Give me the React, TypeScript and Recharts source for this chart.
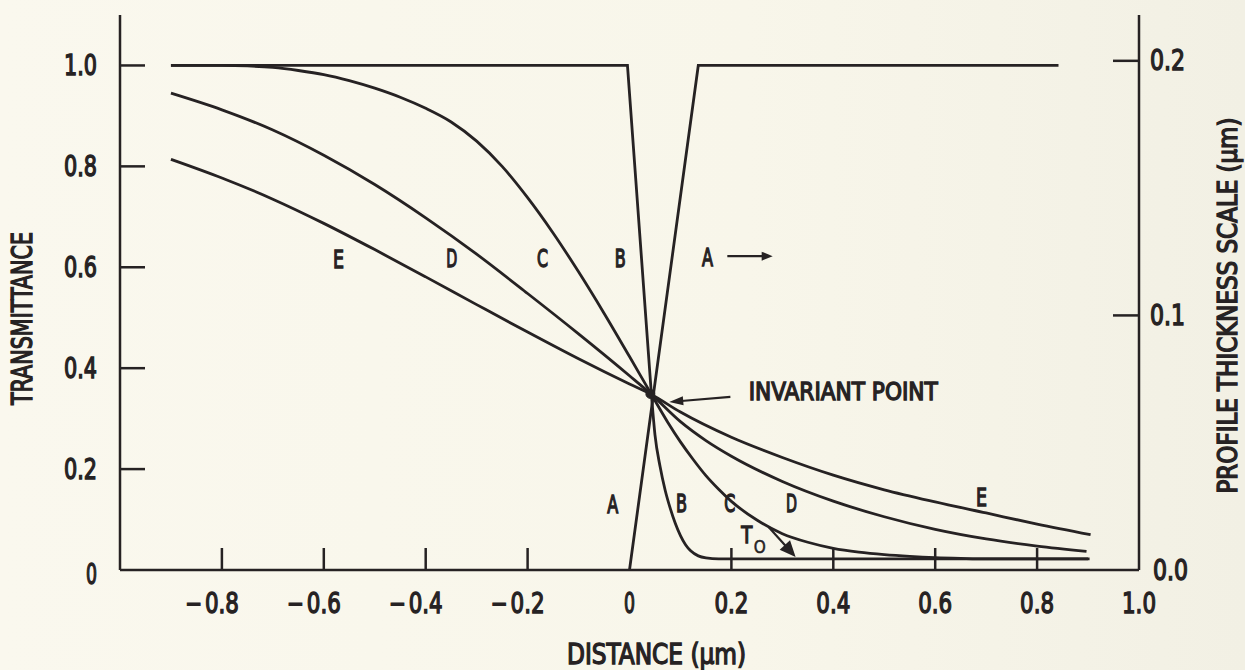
import React from 'react';
import {
  LineChart,
  Line,
  XAxis,
  YAxis,
  ReferenceDot,
  ReferenceLine,
  Label,
} from 'recharts';

const INK = '#262223';
const FONT = "'Liberation Sans Narrow', 'DejaVu Sans Condensed', 'Arial Narrow', sans-serif";

// ---- axis ticks ----
const xTicks = [-0.8, -0.6, -0.4, -0.2, 0, 0.2, 0.4, 0.6, 0.8, 1.0];
const yTicks = [0, 0.2, 0.4, 0.6, 0.8, 1.0];
const thicknessTicks = [0, 0.1, 0.2];

// ---- transmittance profiles (distance in µm, transmittance 0..1) ----
const profileA = [
  { x: 0, y: 0 },
  { x: 0.135, y: 1.0 },
  { x: 0.842, y: 1.0 },
];

const profileBEdge = [
  { x: -0.9, y: 1.0 },
  { x: -0.004, y: 1.0 },
  { x: 0.043, y: 0.348 },
];

const profileBTail = [
  { x: 0.043, y: 0.348 },
  { x: 0.05, y: 0.268 },
  { x: 0.06, y: 0.205 },
  { x: 0.07, y: 0.158 },
  { x: 0.08, y: 0.122 },
  { x: 0.09, y: 0.092 },
  { x: 0.1, y: 0.068 },
  { x: 0.11, y: 0.05 },
  { x: 0.12, y: 0.038 },
  { x: 0.135, y: 0.028 },
  { x: 0.15, y: 0.024 },
  { x: 0.175, y: 0.022 },
  { x: 0.2, y: 0.022 },
  { x: 0.903, y: 0.022 },
];

const profileC = [
  { x: -0.9, y: 1.0 },
  { x: -0.8, y: 1.0 },
  { x: -0.75, y: 0.999 },
  { x: -0.7, y: 0.996 },
  { x: -0.65, y: 0.99 },
  { x: -0.6, y: 0.982 },
  { x: -0.55, y: 0.97 },
  { x: -0.5, y: 0.955 },
  { x: -0.45, y: 0.937 },
  { x: -0.4, y: 0.915 },
  { x: -0.35, y: 0.888 },
  { x: -0.3, y: 0.85 },
  { x: -0.25, y: 0.8 },
  { x: -0.2, y: 0.738 },
  { x: -0.15, y: 0.668 },
  { x: -0.1, y: 0.591 },
  { x: -0.05, y: 0.509 },
  { x: 0, y: 0.423 },
  { x: 0.043, y: 0.348 },
  { x: 0.075, y: 0.293 },
  { x: 0.1, y: 0.254 },
  { x: 0.125, y: 0.219 },
  { x: 0.15, y: 0.187 },
  { x: 0.175, y: 0.16 },
  { x: 0.2, y: 0.136 },
  { x: 0.25, y: 0.099 },
  { x: 0.3, y: 0.072 },
  { x: 0.35, y: 0.055 },
  { x: 0.4, y: 0.043 },
  { x: 0.45, y: 0.0355 },
  { x: 0.5, y: 0.0305 },
  { x: 0.55, y: 0.027 },
  { x: 0.6, y: 0.0245 },
  { x: 0.65, y: 0.023 },
  { x: 0.7, y: 0.022 },
  { x: 0.9, y: 0.022 },
];

const profileD = [
  { x: -0.9, y: 0.945 },
  { x: -0.8, y: 0.912 },
  { x: -0.7, y: 0.872 },
  { x: -0.6, y: 0.822 },
  { x: -0.5, y: 0.764 },
  { x: -0.4, y: 0.698 },
  { x: -0.3, y: 0.626 },
  { x: -0.2, y: 0.548 },
  { x: -0.1, y: 0.468 },
  { x: 0, y: 0.385 },
  { x: 0.043, y: 0.348 },
  { x: 0.1, y: 0.294 },
  { x: 0.15, y: 0.2565 },
  { x: 0.2, y: 0.2255 },
  { x: 0.3, y: 0.1755 },
  { x: 0.4, y: 0.1365 },
  { x: 0.5, y: 0.1055 },
  { x: 0.6, y: 0.0805 },
  { x: 0.7, y: 0.0615 },
  { x: 0.8, y: 0.0475 },
  { x: 0.897, y: 0.037 },
];

const profileE = [
  { x: -0.9, y: 0.814 },
  { x: -0.8, y: 0.777 },
  { x: -0.7, y: 0.735 },
  { x: -0.6, y: 0.687 },
  { x: -0.5, y: 0.635 },
  { x: -0.4, y: 0.581 },
  { x: -0.3, y: 0.526 },
  { x: -0.2, y: 0.4715 },
  { x: -0.1, y: 0.4185 },
  { x: 0, y: 0.3685 },
  { x: 0.043, y: 0.348 },
  { x: 0.1, y: 0.313 },
  { x: 0.2, y: 0.263 },
  { x: 0.3, y: 0.223 },
  { x: 0.4, y: 0.188 },
  { x: 0.5, y: 0.159 },
  { x: 0.6, y: 0.135 },
  { x: 0.7, y: 0.113 },
  { x: 0.8, y: 0.091 },
  { x: 0.905, y: 0.07 },
];

// ---- curve letters and notes, anchored in data units ----
const curveTags = [
  { t: 'E', x: -0.571, y: 0.616 },
  { t: 'D', x: -0.349, y: 0.618 },
  { t: 'C', x: -0.171, y: 0.618 },
  { t: 'B', x: -0.018, y: 0.618 },
  { t: 'A', x: 0.153, y: 0.62 },
  { t: 'A', x: -0.033, y: 0.129 },
  { t: 'B', x: 0.102, y: 0.131 },
  { t: 'C', x: 0.197, y: 0.131 },
  { t: 'D', x: 0.318, y: 0.131 },
  { t: 'E', x: 0.691, y: 0.143 },
];

const invariantPoint = { x: 0.041, y: 0.349 };
const invariantNote = { text: 'INVARIANT POINT', x: 0.234, y: 0.354 };
const t0Note = { x: 0.23, y: 0.069 };

const arrows = [
  { from: { x: 0.192, y: 0.622 }, to: { x: 0.281, y: 0.622 }, head: 11, half: 4.5 },
  { from: { x: 0.198, y: 0.343 }, to: { x: 0.078, y: 0.333 }, head: 14, half: 4.5 },
  { from: { x: 0.273, y: 0.085 }, to: { x: 0.326, y: 0.026 }, head: 16, half: 7 },
];

const fmtX = (v: number) => (v === 0 ? '0' : Math.abs(v).toFixed(1));
const fmtY = (v: number) => (v === 0 ? '0' : v.toFixed(1));

const textStyle = {
  fontFamily: FONT,
  fontWeight: 400,
  fill: INK,
  stroke: INK,
  strokeWidth: 1.3,
} as const;

const XTick = (props: any) => {
  const { x, y, payload } = props;
  const v = payload.value as number;
  const showLine = v !== 0 && v !== 1;
  const s = fmtX(v);
  return (
    <g>
      {showLine && <line x1={x} x2={x} y1={y} y2={y - 22} stroke={INK} strokeWidth={2.5} />}
      {v < 0 && (
        <text
          x={x - 20}
          y={y + 33}
          textAnchor="end"
          dominantBaseline="central"
          fontSize={28}
          textLength={17}
          lengthAdjust="spacingAndGlyphs"
          style={textStyle}
        >
          −
        </text>
      )}
      <text
        x={x}
        y={y + 33}
        textAnchor="middle"
        dominantBaseline="central"
        fontSize={28}
        textLength={s.length === 1 ? 11 : 34}
        lengthAdjust="spacingAndGlyphs"
        style={textStyle}
      >
        {s}
      </text>
    </g>
  );
};

const LeftTick = (props: any) => {
  const { x, y, payload } = props;
  const v = payload.value as number;
  const s = fmtY(v);
  return (
    <g>
      {v !== 0 && <line x1={x} x2={x + 25} y1={y} y2={y} stroke={INK} strokeWidth={2.5} />}
      <text
        x={x - 23}
        y={v === 0 ? y + 4 : y}
        textAnchor="end"
        dominantBaseline="central"
        fontSize={28}
        textLength={s.length === 1 ? 11 : 33}
        lengthAdjust="spacingAndGlyphs"
        style={textStyle}
      >
        {s}
      </text>
    </g>
  );
};

const RightTick = (props: any) => {
  const { x, y, payload } = props;
  const v = payload.value as number;
  return (
    <g>
      {v !== 0 && <line x1={x} x2={x - 26} y1={y} y2={y} stroke={INK} strokeWidth={2.5} />}
      <text
        x={x + (v === 0 ? 14 : 11)}
        y={y}
        textAnchor="start"
        dominantBaseline="central"
        fontSize={28}
        textLength={35}
        lengthAdjust="spacingAndGlyphs"
        style={textStyle}
      >
        {v.toFixed(1)}
      </text>
    </g>
  );
};

const tagShape = (t: string) => (p: any) => (
  <text
    x={p.cx}
    y={p.cy}
    textAnchor="middle"
    dominantBaseline="central"
    fontSize={25}
    textLength={11}
    lengthAdjust="spacingAndGlyphs"
    style={textStyle}
  >
    {t}
  </text>
);

const arrowShape = (head: number, half: number) => (p: any) => {
  const { x1, y1, x2, y2 } = p;
  const dx = x2 - x1;
  const dy = y2 - y1;
  const len = Math.hypot(dx, dy) || 1;
  const ux = dx / len;
  const uy = dy / len;
  const bx = x2 - ux * head;
  const by = y2 - uy * head;
  const pts = `${x2},${y2} ${bx - uy * half},${by + ux * half} ${bx + uy * half},${by - ux * half}`;
  return (
    <g>
      <line x1={x1} y1={y1} x2={bx + ux * 2} y2={by + uy * 2} stroke={INK} strokeWidth={2.2} />
      <polygon points={pts} fill={INK} />
    </g>
  );
};

const titleStyle = { ...textStyle, fontSize: 28 } as const;

export default function App() {
  return (
    <div
      style={{
        position: 'absolute',
        left: 0,
        top: 0,
        width: 1245,
        height: 670,
        background: 'linear-gradient(to right, #FAF8EE 0%, #F8F6EA 60%, #F2F0E4 100%)',
      }}
    >
      <LineChart width={1245} height={670} margin={{ top: 15, right: 0, bottom: 0, left: 0 }}>
        <XAxis
          type="number"
          dataKey="x"
          domain={[-1, 1]}
          ticks={xTicks}
          interval={0}
          height={100}
          tickSize={0}
          tickMargin={0}
          tickLine={false}
          axisLine={{ stroke: INK, strokeWidth: 2.5 }}
          tick={<XTick />}
          allowDataOverflow
        >
          <Label
            content={(lp: any) => {
              const vb = lp.viewBox || { x: 120, y: 570, width: 1019, height: 100 };
              return (
                <text
                  x={vb.x + vb.width / 2 + 27}
                  y={vb.y + 84}
                  textAnchor="middle"
                  dominantBaseline="central"
                  textLength={179}
                  lengthAdjust="spacingAndGlyphs"
                  style={titleStyle}
                >
                  DISTANCE (μm)
                </text>
              );
            }}
          />
        </XAxis>
        <YAxis
          yAxisId="left"
          type="number"
          domain={[0, 1.1]}
          ticks={yTicks}
          interval={0}
          width={120}
          tickSize={0}
          tickMargin={0}
          tickLine={false}
          axisLine={{ stroke: INK, strokeWidth: 2.5 }}
          tick={<LeftTick />}
          allowDataOverflow
        >
          <Label
            content={(lp: any) => {
              const vb = lp.viewBox || { x: 0, y: 15, width: 120, height: 555 };
              const cx = vb.x + 22;
              const cy = vb.y + vb.height / 2 + 26;
              return (
                <text
                  x={cx}
                  y={cy}
                  transform={`rotate(-90 ${cx} ${cy})`}
                  textAnchor="middle"
                  dominantBaseline="central"
                  textLength={173}
                  lengthAdjust="spacingAndGlyphs"
                  style={titleStyle}
                >
                  TRANSMITTANCE
                </text>
              );
            }}
          />
        </YAxis>
        <YAxis
          yAxisId="right"
          orientation="right"
          type="number"
          domain={[0, 0.218]}
          ticks={thicknessTicks}
          interval={0}
          width={106}
          tickSize={0}
          tickMargin={0}
          tickLine={false}
          axisLine={{ stroke: INK, strokeWidth: 2.5 }}
          tick={<RightTick />}
          allowDataOverflow
        >
          <Label
            content={(lp: any) => {
              const vb = lp.viewBox || { x: 1139, y: 15, width: 106, height: 555 };
              const cx = vb.x + 89;
              const cy = vb.y + vb.height / 2 + 13;
              return (
                <text
                  x={cx}
                  y={cy}
                  transform={`rotate(-90 ${cx} ${cy})`}
                  textAnchor="middle"
                  dominantBaseline="central"
                  fontSize={26}
                  textLength={376}
                  lengthAdjust="spacingAndGlyphs"
                  style={{ ...textStyle, fontSize: 26 }}
                >
                  PROFILE THICKNESS SCALE (μm)
                </text>
              );
            }}
          />
        </YAxis>

        <Line yAxisId="left" data={profileA} dataKey="y" type="linear" dot={false} activeDot={false}
          stroke={INK} strokeWidth={2.8} isAnimationActive={false} />
        <Line yAxisId="left" data={profileBEdge} dataKey="y" type="linear" dot={false} activeDot={false}
          stroke={INK} strokeWidth={2.8} isAnimationActive={false} />
        <Line yAxisId="left" data={profileBTail} dataKey="y" type="monotone" dot={false} activeDot={false}
          stroke={INK} strokeWidth={2.8} isAnimationActive={false} />
        <Line yAxisId="left" data={profileC} dataKey="y" type="monotone" dot={false} activeDot={false}
          stroke={INK} strokeWidth={2.8} isAnimationActive={false} />
        <Line yAxisId="left" data={profileD} dataKey="y" type="monotone" dot={false} activeDot={false}
          stroke={INK} strokeWidth={2.8} isAnimationActive={false} />
        <Line yAxisId="left" data={profileE} dataKey="y" type="monotone" dot={false} activeDot={false}
          stroke={INK} strokeWidth={2.8} isAnimationActive={false} />

        <ReferenceDot yAxisId="left" x={invariantPoint.x} y={invariantPoint.y} r={4.5}
          fill={INK} stroke={INK} strokeWidth={1} />

        {curveTags.map((tg, i) => (
          <ReferenceDot key={`tag-${i}`} yAxisId="left" x={tg.x} y={tg.y} r={0}
            shape={tagShape(tg.t)} />
        ))}

        <ReferenceDot
          yAxisId="left"
          x={invariantNote.x}
          y={invariantNote.y}
          r={0}
          shape={(p: any) => (
            <text
              x={p.cx}
              y={p.cy}
              textAnchor="start"
              dominantBaseline="central"
              fontSize={25}
              textLength={189}
              lengthAdjust="spacingAndGlyphs"
              style={textStyle}
            >
              {invariantNote.text}
            </text>
          )}
        />

        <ReferenceDot
          yAxisId="left"
          x={t0Note.x}
          y={t0Note.y}
          r={0}
          shape={(p: any) => (
            <g>
              <text
                x={p.cx}
                y={p.cy}
                textAnchor="middle"
                dominantBaseline="central"
                fontSize={23}
                textLength={11}
                lengthAdjust="spacingAndGlyphs"
                style={textStyle}
              >
                T
              </text>
              <text
                x={p.cx + 13}
                y={p.cy + 11}
                textAnchor="middle"
                dominantBaseline="central"
                fontSize={18}
                textLength={12}
                lengthAdjust="spacingAndGlyphs"
                style={{ ...textStyle, strokeWidth: 0.5 }}
              >
                O
              </text>
            </g>
          )}
        />

        {arrows.map((a, i) => (
          <ReferenceLine
            key={`arrow-${i}`}
            yAxisId="left"
            segment={[a.from, a.to]}
            shape={arrowShape(a.head, a.half)}
          />
        ))}
      </LineChart>
    </div>
  );
}
